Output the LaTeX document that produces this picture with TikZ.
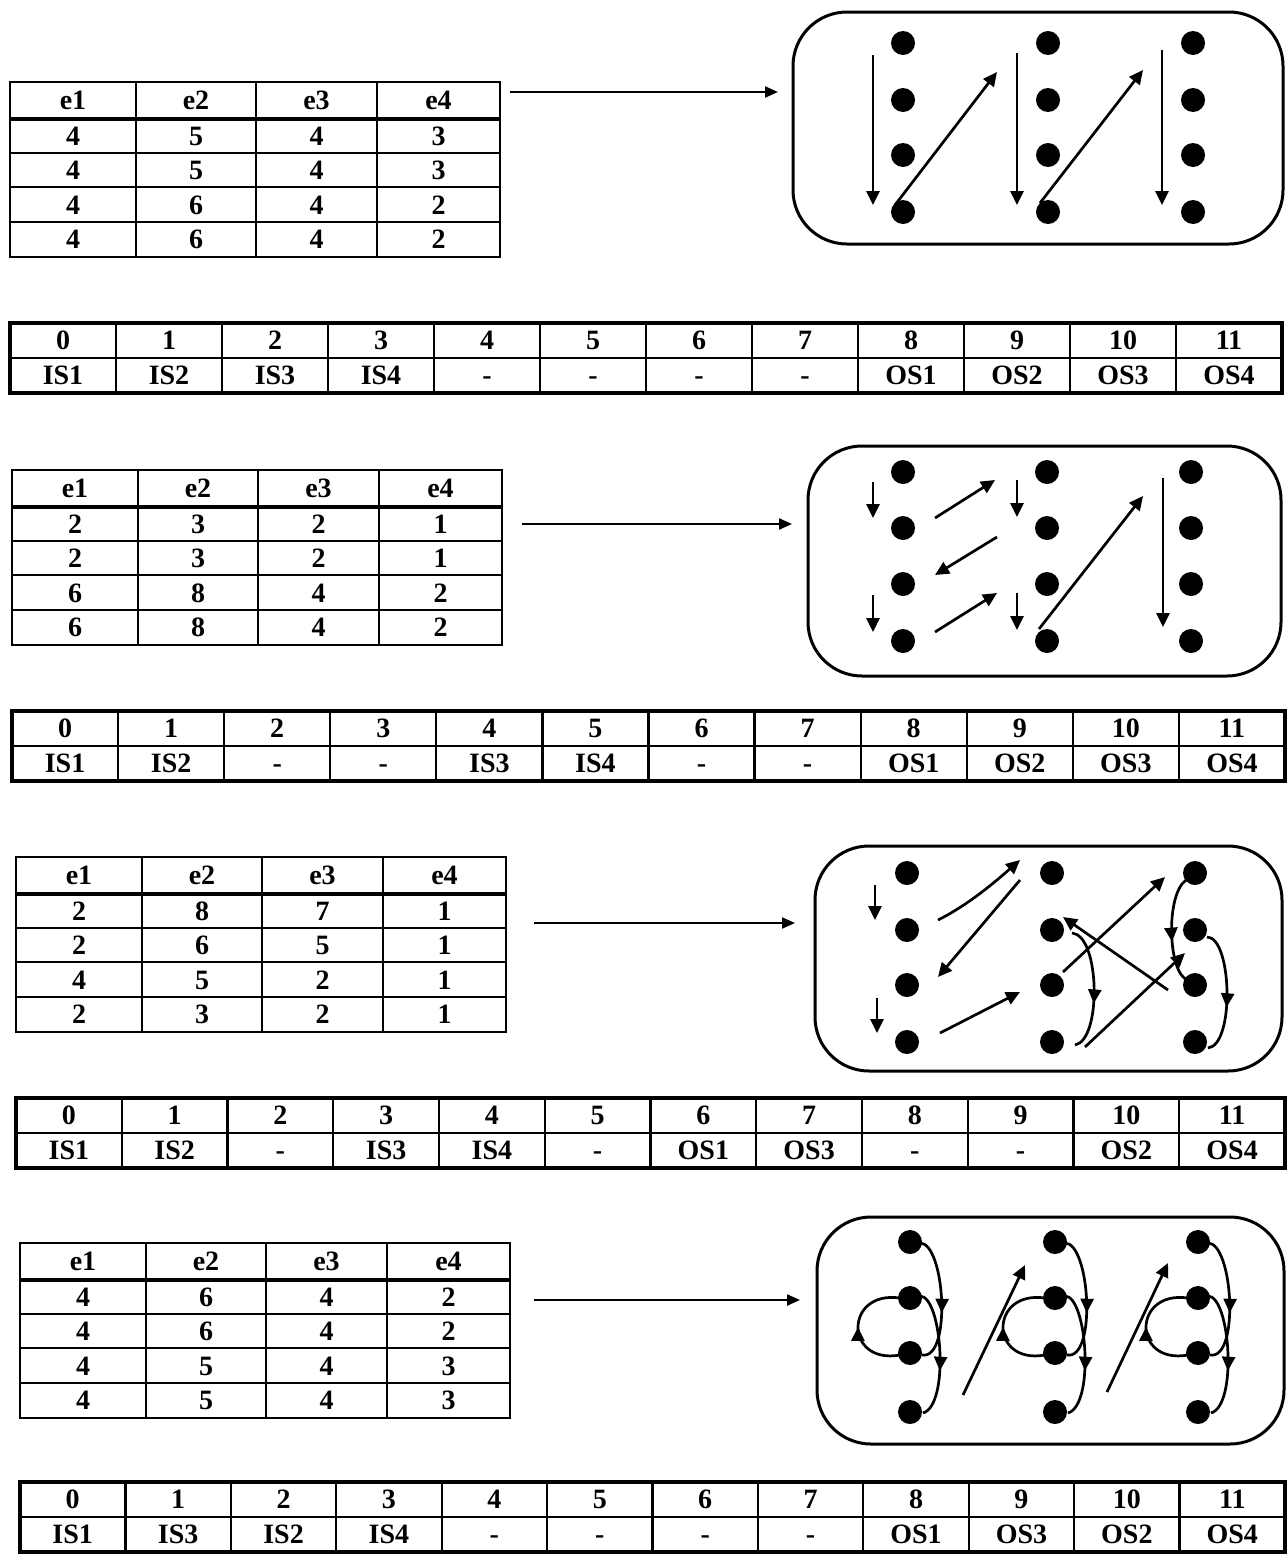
\documentclass[tikz,border=0pt]{standalone}
\usepackage{fontspec}
\setmainfont{Liberation Serif}
\usetikzlibrary{arrows.meta,calc,fit,decorations.markings}
\tikzset{
 cell/.style={font=\fontsize{14}{16}\selectfont\bfseries, inner sep=0pt, text height=9.3pt, text depth=0pt},
 tabout/.style={line width=1.4pt},
 tabin/.style={line width=1.1pt},
 tabhead/.style={line width=2.4pt},
 wideout/.style={line width=2pt},
 dotnode/.style={circle, fill=black, inner sep=0pt, minimum size=12pt},
 panel/.style={draw, line width=1.5pt, rounded corners=27pt, inner sep=0pt},
 arr/.style={line width=1.35pt, -{Triangle[length=7pt,width=6.5pt]}},
 bigarr/.style={line width=1.1pt, -{Triangle[length=6.5pt,width=5.5pt]}},
 midarr/.style={line width=1.35pt, postaction={decorate}, decoration={markings, mark=at position #1 with {\arrow{Triangle[length=7pt,width=6.5pt]}}}},
}
\newcommand\smalltab[4]{%
  \begin{scope}[shift={(#2,#3)}]
    \draw[tabout] (0,0) rectangle (490,175);
    \foreach \cx in {126,246,367} \draw[tabin] (\cx,0) -- (\cx,175);
    \draw[tabhead] (0,37) -- (490,37);
    \foreach \ry in {71,105,140} \draw[tabin] (0,\ry) -- (490,\ry);
    \foreach [count=\k] \pa/\pb/\pc/\pd in {e1/e2/e3/e4,#4} {
      \pgfmathsetmacro\yc{\k==1 ? 18.5 : 54+(\k-2)*34.5}
      \node[cell] (#1-\k-1) at (63,\yc) {\pa};
      \node[cell] (#1-\k-2) at (186,\yc) {\pb};
      \node[cell] (#1-\k-3) at (306.5,\yc) {\pc};
      \node[cell] (#1-\k-4) at (428.5,\yc) {\pd};
    }
  \end{scope}}
\newcommand\widetab[5]{%
  \pgfmathsetmacro\cw{(#4-#2)/12}
  \draw[wideout] (#2,#3) rectangle (#4,{#3+70});
  \draw[tabin] (#2,{#3+35}) -- (#4,{#3+35});
  \foreach \k in {1,...,11} \draw[tabin] ({#2+\k*\cw},#3) -- ({#2+\k*\cw},{#3+70});
  \foreach [count=\k from 0] \lab in {#5} {
    \node[cell] (#1-t\k) at ({#2+(\k+0.5)*\cw},{#3+17.5}) {\k};
    \node[cell] (#1-b\k) at ({#2+(\k+0.5)*\cw},{#3+52.5}) {\lab};
  }}
\newcommand\dotgrid[3]{%
  \foreach [count=\ci] \xx in {#2} {
    \foreach [count=\ri] \yy in {#3} {
      \node[dotnode] (#1-\ci-\ri) at (\xx,\yy) {};
    }}}
\begin{document}
\begin{tikzpicture}[x=0.5pt,y=-0.5pt]
\useasboundingbox (0,0) rectangle (1288,1558);
\fill[white] (0,0) rectangle (1288,1558);

% ---------------- section 1
\smalltab{s1}{10}{82}{4/5/4/3,4/5/4/3,4/6/4/2,4/6/4/2}
\widetab{w1}{10}{323}{1282}{IS1,IS2,IS3,IS4,-,-,-,-,OS1,OS2,OS3,OS4}
\node[panel, fit={(793,12) (1283,244)}] (box1) {};
\dotgrid{b1}{903,1048,1193}{43,100,155,212}
\coordinate (a1s) at (510,92);
\coordinate (a1e) at (778,92);
\draw[bigarr] (a1s) -- (a1e);
\draw[arr] ($(b1-1-1)+(-30,12)$) -- ($(b1-1-4)+(-30,-7)$);
\draw[arr] ($(b1-1-4)+(-8,-7)$) -- ($(b1-2-1)+(-51,29)$);
\draw[arr] ($(b1-2-1)+(-31,10)$) -- ($(b1-2-4)+(-31,-7)$);
\draw[arr] ($(b1-2-4)+(-8,-9)$) -- ($(b1-3-1)+(-50,27)$);
\draw[arr] ($(b1-3-1)+(-31,7)$) -- ($(b1-3-4)+(-31,-7)$);

% ---------------- section 2
\smalltab{s2}{12}{470}{2/3/2/1,2/3/2/1,6/8/4/2,6/8/4/2}
\widetab{w2}{12}{711}{1285}{IS1,IS2,-,-,IS3,IS4,-,-,OS1,OS2,OS3,OS4}
\node[panel, fit={(808,446) (1281,676)}] (box2) {};
\dotgrid{b2}{903,1047,1191}{472,528,584,641}
\coordinate (a2s) at (522,524);
\coordinate (a2e) at (792,524);
\draw[bigarr] (a2s) -- (a2e);
\draw[arr] ($(b2-1-1)+(-30,10)$) -- ($(b2-1-2)+(-30,-10)$);
\draw[arr] ($(b2-1-3)+(-30,11)$) -- ($(b2-1-4)+(-30,-9)$);
\draw[arr] ($(b2-1-2)+(32,-10)$) -- ($(b2-2-1)+(-52,8)$);
\draw[arr] ($(b2-2-2)+(-50,9)$) -- ($(b2-1-3)+(32,-9)$);
\draw[arr] ($(b2-1-4)+(32,-9)$) -- ($(b2-2-3)+(-50,9)$);
\draw[arr] ($(b2-2-1)+(-30,8)$) -- ($(b2-2-2)+(-30,-11)$);
\draw[arr] ($(b2-2-3)+(-30,9)$) -- ($(b2-2-4)+(-30,-11)$);
\draw[arr] ($(b2-2-4)+(-8,-12)$) -- ($(b2-3-1)+(-48,24)$);
\draw[arr] ($(b2-3-1)+(-28,6)$) -- ($(b2-3-4)+(-28,-14)$);

% ---------------- section 3
\smalltab{s3}{16}{857}{2/8/7/1,2/6/5/1,4/5/2/1,2/3/2/1}
\widetab{w3}{16}{1098}{1285}{IS1,IS2,-,IS3,IS4,-,OS1,OS3,-,-,OS2,OS4}
\node[panel, fit={(815,846) (1282,1071)}] (box3) {};
\dotgrid{b3}{907,1052,1195}{873,930,985,1042}
\coordinate (a3s) at (534,923);
\coordinate (a3e) at (795,923);
\draw[bigarr] (a3s) -- (a3e);
\draw[arr] ($(b3-1-1)+(-32,12)$) -- ($(b3-1-2)+(-32,-10)$);
\draw[arr] ($(b3-1-3)+(-30,13)$) -- ($(b3-1-4)+(-30,-9)$);
\draw[arr] ($(b3-1-2)+(31,-10)$) .. controls +(30,-15) and +(-25,22) .. ($(b3-2-1)+(-32,-13)$);
\draw[arr] ($(b3-2-1)+(-32,7)$) -- ($(b3-1-3)+(31,-8)$);
\draw[arr] ($(b3-1-4)+(33,-9)$) -- ($(b3-2-3)+(-32,7)$);
\draw[arr] ($(b3-2-3)+(11,-13)$) -- ($(b3-3-1)+(-30,4)$);
\draw[arr] ($(b3-3-3)+(-27,5)$) -- ($(b3-2-2)+(11,-13)$);
\draw[arr] ($(b3-2-4)+(33,5)$) -- ($(b3-3-2)+(-10,23)$);
\draw[midarr=0.62] ($(b3-2-2)+(20,3)$) .. controls +(28,2) and +(27,-5) .. ($(b3-2-4)+(23,3)$);
\draw[midarr=0.6] ($(b3-3-1)+(-9,7)$) .. controls +(-21,15) and +(-20,-5) .. ($(b3-3-3)+(-7,-5)$);
\draw[midarr=0.62] ($(b3-3-2)+(12,7)$) .. controls +(25,0) and +(27,-3) .. ($(b3-3-4)+(13,6)$);

% ---------------- section 4
\smalltab{s4}{20}{1243}{4/6/4/2,4/6/4/2,4/5/4/3,4/5/4/3}
\widetab{w4}{20}{1482}{1285}{IS1,IS3,IS2,IS4,-,-,-,-,OS1,OS3,OS2,OS4}
\node[panel, fit={(817,1217) (1284,1444)}] (box4) {};
\dotgrid{b4}{910,1055,1198}{1242,1298,1353,1412}
\coordinate (a4s) at (534,1300);
\coordinate (a4e) at (800,1300);
\draw[bigarr] (a4s) -- (a4e);
\foreach \k in {1,2,3} {
  \draw[midarr=0.6] ($(b4-\k-1)+(10,1)$) .. controls +(25,0) and +(30,5) .. ($(b4-\k-3)+(12,2)$);
  \draw[midarr=0.63] ($(b4-\k-2)+(10,-2)$) .. controls +(22,0) and +(27,-8) .. ($(b4-\k-4)+(13,1)$);
  \draw[midarr=0.5] ($(b4-\k-3)+(-10,2)$) .. controls +(-56,10) and +(-56,-8) .. ($(b4-\k-2)+(-10,0)$);
}
\draw[arr] ($(b4-1-4)+(53,-17)$) -- ($(b4-2-1)+(-30,23)$);
\draw[arr] ($(b4-2-4)+(52,-20)$) -- ($(b4-3-1)+(-30,21)$);
\end{tikzpicture}
\end{document}
